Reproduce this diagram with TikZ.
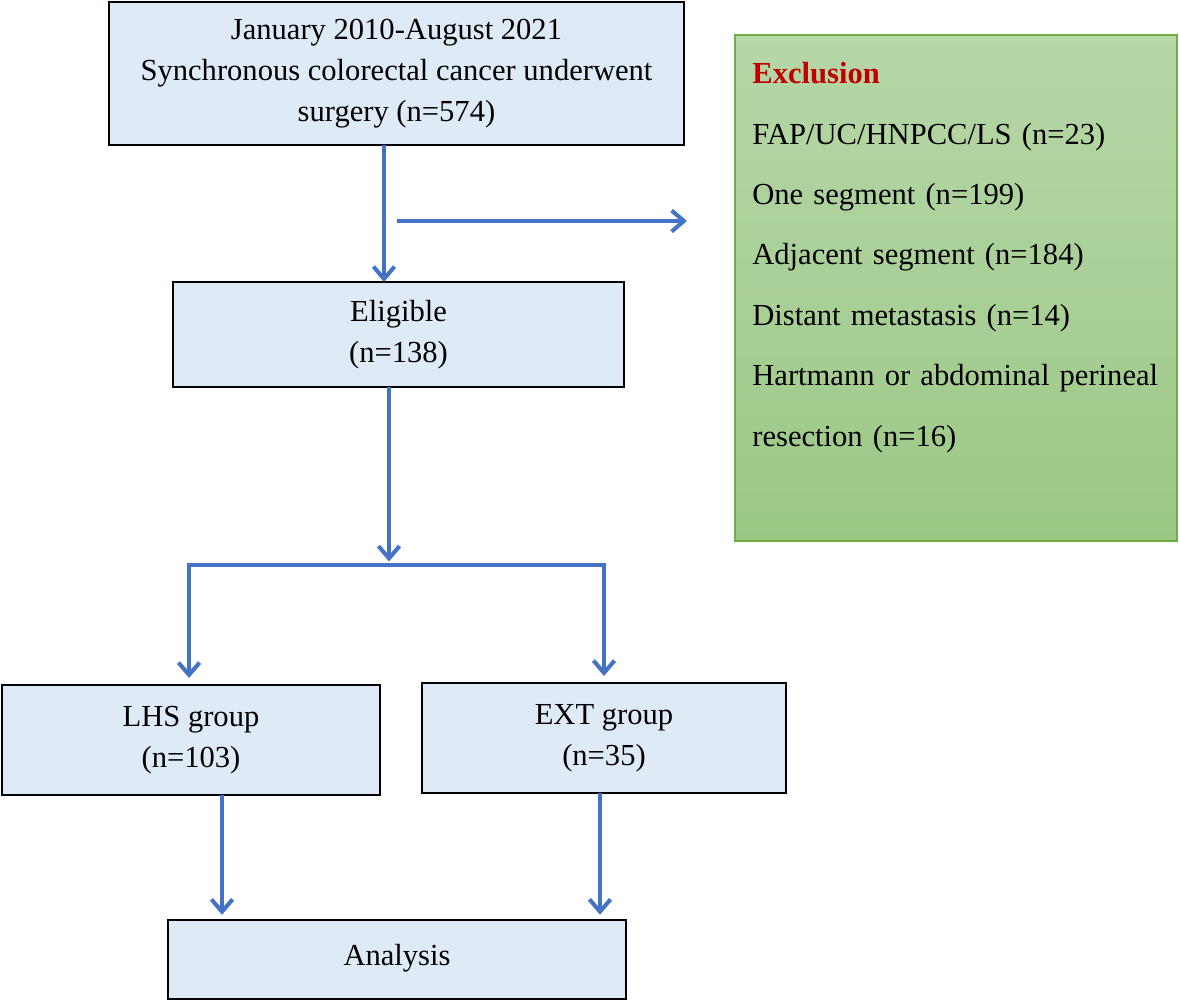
\documentclass[tikz,border=0pt]{standalone}
\usepackage{fontspec}
\setmainfont{Liberation Serif}
\usetikzlibrary{arrows.meta}
\definecolor{boxfill}{HTML}{DEEBF7}
\definecolor{arrblue}{HTML}{4472C4}
\definecolor{gborder}{HTML}{70AD47}
\definecolor{gtop}{HTML}{B6D7A8}
\definecolor{gbot}{HTML}{9CC886}
\definecolor{exred}{HTML}{C00000}
\tikzset{
  box/.style={draw=black, line width=1.4pt, fill=boxfill, inner sep=0pt, outer sep=0pt, align=center,
    font=\fontsize{17.4}{23.2}\selectfont},
  arr/.style={draw=arrblue, line width=2.3pt, -{Straight Barb[length=7pt,width=12pt]}},
  ln/.style={draw=arrblue, line width=2.3pt},
  exbox/.style={draw=gborder, line width=1.2pt, top color=gtop, bottom color=gbot, inner sep=0pt, outer sep=0pt},
}
\begin{document}
\begin{tikzpicture}[x=0.02cm, y=-0.02cm]
\useasboundingbox (0,0) rectangle (1179,1002);
% boxes
\node[box, minimum width=11.5cm, minimum height=2.86cm] (top) at (396.5,73.5)
  {January 2010-August 2021\\Synchronous colorectal cancer underwent\\surgery (n=574)};
\node[box, minimum width=9.02cm, minimum height=2.1cm] (elig) at (398.5,334.5)
  {Eligible\\(n=138)};
\node[box, minimum width=7.56cm, minimum height=2.2cm] (lhs) at (191,740)
  {LHS group\\(n=103)};
\node[box, minimum width=7.28cm, minimum height=2.2cm] (ext) at (604,738)
  {EXT group\\(n=35)};
\node[box, minimum width=9.16cm, minimum height=1.58cm] (ana) at (397,959.5)
  {\raisebox{5pt}{Analysis}};
\node[exbox, minimum width=8.84cm, minimum height=10.12cm] (excl) at (956,288) {};
\node[anchor=north west, inner sep=0pt, text width=8.1cm, align=left,
  font=\fontsize{17.4}{34.4}\selectfont] (extext) at (752,62)
  {{\bfseries\color{exred}Exclusion}\\
   FAP/UC/HNPCC/LS (n=23)\\
   One segment (n=199)\\
   Adjacent segment (n=184)\\
   Distant metastasis (n=14)\\
   \makebox[8.1cm][s]{Hartmann or abdominal perineal}\\
   resection (n=16)};
% coordinates
\coordinate (c1) at (384,0);
\coordinate (ex1) at (397,221);
\coordinate (ex2) at (687,221);
\coordinate (c2) at (389,0);
\coordinate (br) at (389,565);
\coordinate (brl) at (189,565);
\coordinate (brr) at (604,565);
\coordinate (cl) at (222,0);
\coordinate (cr) at (600,0);
% connectors
\draw[arr] (top.south -| c1) -- (elig.north -| c1);
\draw[arr] (ex1) -- (ex2);
\draw[arr, shorten >=2pt] (elig.south -| c2) -- (br);
\draw[ln, line cap=rect] (brl) -- (brr);
\draw[arr, shorten >=4pt] (brl) -- (lhs.north -| brl);
\draw[arr, shorten >=4pt] (brr) -- (ext.north -| brr);
\draw[arr, shorten >=3pt] (lhs.south -| cl) -- (ana.north -| cl);
\draw[arr, shorten >=3pt] (ext.south -| cr) -- (ana.north -| cr);
\end{tikzpicture}
\end{document}
